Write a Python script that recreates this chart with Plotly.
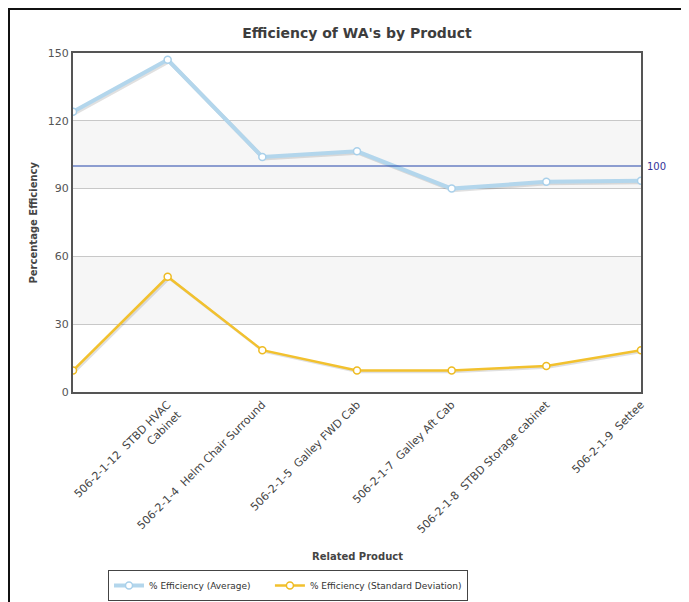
import plotly.graph_objects as go

categories = ["", "506-2-1-12  STBD HVAC<br>Cabinet", "506-2-1-4  Helm Chair Surround",
              "506-2-1-5  Galley FWD Cab", "506-2-1-7  Galley Aft Cab",
              "506-2-1-8  STBD Storage cabinet", "506-2-1-9  Settee"]
avg_values = [124, 147, 104, 106.5, 90, 93, 93.5]
std_values = [9.5, 51, 18.5, 9.5, 9.5, 11.5, 18.5]
y_ticks = [0, 30, 60, 90, 120, 150]
target_value = 100
bands = [(30, 60), (90, 120)]
series_names = ["% Efficiency (Average)", "% Efficiency (Standard Deviation)"]

# page body has an 8px margin; work in screen px and convert
OFF = 8
W, H = 689 - OFF, 602 - OFF
PL, PR, PT, PB = 73, 641, 53, 392  # plot box in screen px
L, R, T, B = PL - OFF, W - (PR - OFF), PT - OFF, H - (PB - OFF)
pw, ph = W - L - R, H - T - B
xs = list(range(len(categories)))


def px_x(p):
    return (p - PL) / pw


def px_y(p):
    return (PB - p) / ph


fig = go.Figure()

# shadow traces (offset axes)
dx = 1.5 * (len(xs) - 1) / pw
dy = 1.5 * 150 / ph
for vals, w in [(avg_values, 4), (std_values, 2.5)]:
    fig.add_trace(go.Scatter(x=xs, y=vals, mode="lines", xaxis="x2", yaxis="y2",
                             line=dict(color="rgba(0,0,0,0.12)", width=w),
                             showlegend=False, hoverinfo="skip"))

fig.add_trace(go.Scatter(x=xs, y=avg_values, mode="lines+markers",
                         name=series_names[0] + "\u00a0" * 5,
                         xaxis="x3", yaxis="y3",
                         line=dict(color="#b3d6ec", width=4),
                         marker=dict(symbol="circle", size=7, color="white",
                                     line=dict(color="#a9d0ea", width=1.5))))
fig.add_trace(go.Scatter(x=xs, y=std_values, mode="lines+markers", name=series_names[1],
                         xaxis="x3", yaxis="y3",
                         line=dict(color="#f2c12e", width=2.5),
                         marker=dict(symbol="circle", size=7, color="white",
                                     line=dict(color="#eebb22", width=1.5))))

shapes = []
for lo, hi in bands:
    shapes.append(dict(type="rect", xref="paper", yref="y", x0=0, x1=1, y0=lo, y1=hi,
                       fillcolor="#f6f6f6", line=dict(width=0), layer="below"))
shapes.append(dict(type="line", xref="paper", yref="y", x0=0, x1=1, y0=target_value, y1=target_value,
                   line=dict(color="#2244aa", width=1)))
# outer frame
shapes.append(dict(type="line", xref="paper", yref="paper", x0=px_x(8), x1=px_x(686),
                   y0=px_y(9), y1=px_y(9), line=dict(color="#111", width=2)))
shapes.append(dict(type="line", xref="paper", yref="paper", x0=px_x(9), x1=px_x(9),
                   y0=px_y(8), y1=px_y(602), line=dict(color="#111", width=2)))

font_fam = "DejaVu Sans"
fig.update_layout(
    width=W, height=H,
    margin=dict(l=L, r=R, t=T, b=B, autoexpand=False),
    paper_bgcolor="white", plot_bgcolor="white",
    title=dict(text="<b>Efficiency of WA's by Product</b>", x=(357 - OFF) / W, xanchor="center",
               y=1 - (33 - OFF) / H, yanchor="middle",
               font=dict(family=font_fam, size=14, color="#3d3d3d")),
    xaxis=dict(range=[0, len(xs) - 1], tickvals=xs, ticktext=categories, tickangle=-45,
               showgrid=False, zeroline=False, showline=True, mirror=True, automargin=False,
               linecolor="#555", linewidth=2, ticks="",
               tickfont=dict(family=font_fam, size=11, color="#444")),
    yaxis=dict(range=[0, 150], tickvals=y_ticks, showgrid=True, gridcolor="#c8c8c8", gridwidth=1,
               zeroline=False, showline=True, mirror=True, linecolor="#555", linewidth=2,
               automargin=False, ticks="", tickfont=dict(family=font_fam, size=11, color="#555")),
    xaxis2=dict(overlaying="x", range=[-dx, len(xs) - 1 - dx], visible=False),
    yaxis2=dict(overlaying="y", range=[dy, 150 + dy], visible=False),
    xaxis3=dict(overlaying="x", range=[0, len(xs) - 1], visible=False),
    yaxis3=dict(overlaying="y", range=[0, 150], visible=False),
    shapes=shapes,
    legend=dict(orientation="h", x=px_x(108), xanchor="left", y=px_y(570), yanchor="top",
                bordercolor="#444", borderwidth=1, bgcolor="white",
                font=dict(family=font_fam, size=9, color="#333"), itemwidth=30),
    annotations=[
        dict(text="100", xref="paper", yref="y", x=1, y=target_value, xanchor="left",
             xshift=4, showarrow=False, font=dict(family=font_fam, size=10, color="#333399")),
        dict(text="<b>Related Product</b>", xref="paper", yref="paper", x=0.5, y=px_y(556),
             xanchor="center", yanchor="middle", showarrow=False,
             font=dict(family=font_fam, size=10, color="#444")),
        dict(text="<b>Percentage Efficiency</b>", xref="paper", yref="paper", x=px_x(33), y=0.5,
             xanchor="center", yanchor="middle", textangle=-90, showarrow=False,
             font=dict(family=font_fam, size=10, color="#444")),
    ],
)

fig.write_html("out.html")
